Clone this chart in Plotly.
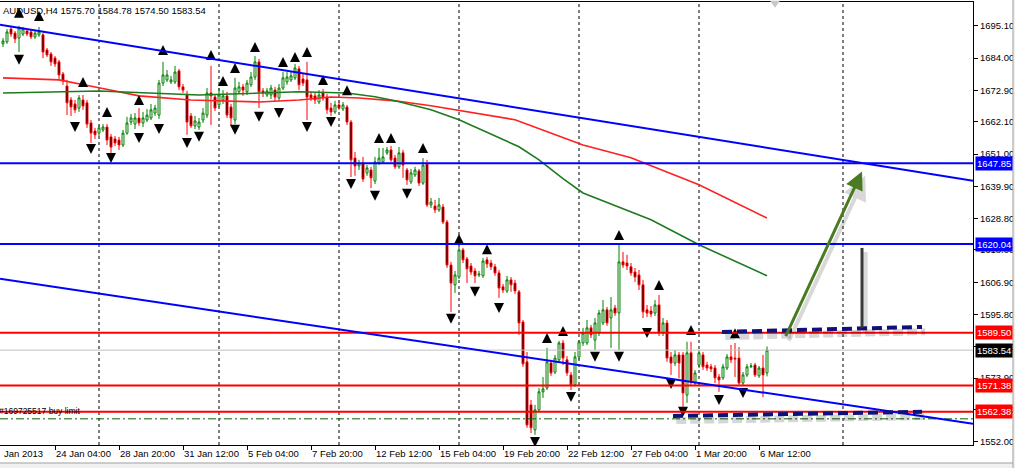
import plotly.graph_objects as go

# ---------------- data ----------------
opens = [1688.9, 1689.6, 1694.0, 1692.6, 1690.9, 1692.3, 1693.3, 1693.0, 1691.3, 1692.0,
         1692.0, 1686.8, 1685.4, 1684.0, 1682.7, 1678.5, 1674.4, 1669.6, 1668.2, 1666.8,
         1669.6, 1668.6, 1661.7, 1658.9, 1658.2, 1659.3, 1660.3, 1656.9, 1656.2, 1655.8,
         1654.1, 1658.2, 1662.0, 1661.3, 1663.4, 1661.7, 1662.7, 1663.4, 1665.1, 1664.4,
         1675.4, 1676.5, 1675.8, 1675.8, 1679.6, 1674.1, 1671.3, 1664.1, 1660.7, 1660.3,
         1662.7, 1664.4, 1672.0, 1670.6, 1667.9, 1669.6, 1671.0, 1667.2, 1662.7, 1672.4,
         1674.1, 1672.4, 1674.8, 1677.5, 1682.7, 1672.7, 1671.3, 1671.3, 1673.0, 1670.3,
         1673.7, 1675.8, 1676.5, 1677.2, 1680.3, 1676.8, 1676.5, 1671.3, 1671.0, 1668.9,
         1672.0, 1670.6, 1666.8, 1665.5, 1667.9, 1666.5, 1667.2, 1662.0, 1649.6, 1646.9,
         1647.9, 1644.5, 1645.5, 1641.7, 1647.9, 1648.3, 1651.4, 1652.4, 1649.6, 1646.6,
         1651.4, 1645.5, 1641.4, 1643.8, 1645.2, 1641.0, 1647.6, 1633.5, 1633.1, 1631.8,
         1632.8, 1627.6, 1612.8, 1606.0, 1608.7, 1618.0, 1614.9, 1612.5, 1610.8, 1609.4,
         1609.1, 1614.6, 1613.5, 1612.2, 1610.1, 1605.3, 1603.9, 1607.7, 1606.6, 1603.6,
         1593.2, 1579.5, 1564.7, 1556.1, 1563.0, 1569.2, 1570.5, 1579.1, 1576.0, 1580.2,
         1586.0, 1580.2, 1575.0, 1571.6, 1581.2, 1586.0, 1586.0, 1591.2, 1587.0, 1589.4,
         1592.9, 1597.4, 1594.6, 1598.0, 1596.3, 1613.9, 1613.5, 1612.2, 1610.4, 1609.4,
         1606.0, 1597.4, 1597.0, 1596.3, 1599.1, 1589.4, 1592.9, 1581.2, 1579.1, 1581.9,
         1581.9, 1568.1, 1582.6, 1572.2, 1578.4, 1581.9, 1578.4, 1577.8, 1577.4, 1574.3,
         1574.0, 1577.4, 1581.2, 1580.8, 1580.8, 1572.2, 1575.0, 1577.8, 1578.4, 1574.7,
         1577.4, 1575.70]
highs = [1690.9, 1694.0, 1694.7, 1693.3, 1695.1, 1694.7, 1694.0, 1693.7, 1693.3, 1694.7,
         1692.6, 1687.5, 1686.1, 1684.7, 1683.4, 1679.2, 1676.5, 1670.6, 1669.6, 1671.3,
         1671.3, 1669.6, 1662.7, 1660.0, 1661.0, 1661.3, 1661.3, 1657.9, 1657.2, 1656.9,
         1659.3, 1663.8, 1664.8, 1665.1, 1666.8, 1665.5, 1666.5, 1668.2, 1667.9, 1676.5,
         1682.7, 1679.9, 1677.9, 1681.3, 1680.3, 1675.1, 1672.7, 1665.1, 1664.1, 1663.4,
         1666.8, 1673.7, 1681.3, 1671.7, 1673.7, 1673.0, 1672.4, 1668.2, 1677.2, 1675.8,
         1675.1, 1676.5, 1679.2, 1684.7, 1683.7, 1673.7, 1673.7, 1674.8, 1674.1, 1675.1,
         1679.2, 1679.2, 1679.2, 1682.0, 1681.3, 1678.9, 1682.7, 1672.4, 1672.0, 1673.0,
         1673.4, 1671.7, 1668.6, 1669.3, 1669.3, 1668.9, 1667.9, 1662.7, 1651.7, 1649.0,
         1650.0, 1647.2, 1646.6, 1650.0, 1653.1, 1653.1, 1653.4, 1653.8, 1650.7, 1653.4,
         1652.4, 1646.2, 1645.9, 1646.6, 1645.9, 1649.6, 1649.0, 1635.9, 1635.2, 1635.9,
         1633.8, 1628.3, 1613.9, 1610.8, 1619.0, 1618.7, 1615.6, 1613.5, 1611.8, 1610.8,
         1615.2, 1615.6, 1614.6, 1613.2, 1611.1, 1606.3, 1609.1, 1608.7, 1607.7, 1604.2,
         1593.9, 1582.9, 1566.4, 1564.7, 1570.5, 1574.3, 1584.3, 1580.2, 1581.9, 1586.7,
         1587.0, 1581.5, 1576.0, 1582.9, 1587.0, 1591.2, 1593.9, 1592.2, 1594.6, 1597.4,
         1600.8, 1598.4, 1601.8, 1599.1, 1619.7, 1617.3, 1616.3, 1613.5, 1611.8, 1611.1,
         1607.7, 1599.1, 1598.7, 1600.8, 1602.5, 1594.6, 1593.9, 1582.9, 1583.6, 1582.9,
         1582.9, 1586.4, 1586.4, 1576.7, 1583.6, 1582.9, 1579.5, 1578.8, 1578.4, 1575.3,
         1578.8, 1582.2, 1585.3, 1586.0, 1584.6, 1576.0, 1578.8, 1579.1, 1579.1, 1578.1,
         1581.9, 1584.78]
lows = [1687.8, 1688.9, 1691.3, 1689.2, 1686.1, 1691.6, 1691.6, 1690.6, 1690.6, 1691.3,
        1684.0, 1684.4, 1681.3, 1681.0, 1676.8, 1674.8, 1664.4, 1664.1, 1665.1, 1665.5,
        1666.2, 1660.0, 1654.8, 1656.2, 1657.2, 1658.6, 1654.1, 1651.4, 1653.8, 1652.4,
        1653.4, 1657.6, 1661.0, 1659.6, 1660.7, 1660.3, 1662.0, 1662.7, 1664.1, 1663.1,
        1674.4, 1675.8, 1675.1, 1675.1, 1673.0, 1672.0, 1657.6, 1660.0, 1659.6, 1659.3,
        1661.7, 1663.4, 1661.0, 1665.8, 1667.2, 1668.2, 1663.4, 1660.7, 1661.3, 1671.7,
        1671.0, 1671.3, 1674.1, 1676.5, 1666.8, 1670.6, 1670.6, 1669.9, 1669.3, 1669.3,
        1673.0, 1674.8, 1675.8, 1676.5, 1673.0, 1674.4, 1662.7, 1669.3, 1668.2, 1668.2,
        1669.3, 1664.8, 1664.1, 1664.8, 1666.2, 1665.8, 1661.0, 1643.1, 1643.5, 1645.5,
        1641.4, 1643.5, 1639.3, 1640.7, 1647.2, 1647.6, 1650.7, 1648.3, 1645.9, 1645.9,
        1642.8, 1640.4, 1640.7, 1643.1, 1640.0, 1640.4, 1632.8, 1632.4, 1630.7, 1631.1,
        1626.9, 1611.8, 1596.7, 1603.2, 1608.0, 1613.5, 1606.6, 1609.4, 1606.6, 1608.7,
        1608.4, 1611.8, 1611.1, 1609.1, 1601.5, 1603.2, 1603.2, 1603.6, 1602.9, 1588.8,
        1577.8, 1556.8, 1555.0, 1554.4, 1562.3, 1567.1, 1569.8, 1574.7, 1575.3, 1579.5,
        1578.4, 1574.7, 1569.8, 1570.9, 1580.2, 1585.0, 1585.3, 1587.7, 1583.6, 1588.4,
        1592.2, 1591.9, 1584.3, 1595.3, 1583.6, 1611.8, 1611.1, 1609.1, 1607.0, 1604.2,
        1594.6, 1594.9, 1594.9, 1595.3, 1588.4, 1588.4, 1579.5, 1575.0, 1578.1, 1573.8,
        1564.0, 1565.4, 1571.6, 1571.2, 1577.4, 1576.7, 1576.4, 1576.0, 1572.2, 1569.2,
        1573.3, 1576.7, 1579.1, 1574.3, 1571.6, 1571.2, 1574.3, 1577.4, 1574.3, 1574.0,
        1567.4, 1574.50]
closes = [1689.9, 1693.0, 1692.3, 1690.6, 1694.4, 1694.0, 1692.3, 1691.3, 1692.6, 1693.0,
          1686.1, 1685.1, 1682.7, 1682.0, 1678.2, 1676.1, 1668.6, 1667.2, 1666.2, 1670.3,
          1667.5, 1661.3, 1658.2, 1657.6, 1660.0, 1660.3, 1655.8, 1653.4, 1654.8, 1654.1,
          1658.2, 1661.7, 1663.4, 1663.4, 1661.7, 1663.4, 1664.4, 1666.2, 1666.8, 1675.4,
          1678.2, 1678.2, 1676.5, 1679.2, 1674.1, 1673.0, 1662.0, 1660.7, 1662.4, 1662.0,
          1665.1, 1672.0, 1671.0, 1666.8, 1671.3, 1671.0, 1664.4, 1663.4, 1673.7, 1674.1,
          1673.0, 1675.4, 1677.5, 1682.7, 1672.4, 1672.0, 1672.7, 1673.7, 1670.6, 1673.7,
          1677.2, 1677.5, 1677.9, 1680.6, 1674.8, 1675.4, 1670.6, 1670.3, 1669.6, 1671.3,
          1670.3, 1666.2, 1665.5, 1667.9, 1666.8, 1667.9, 1662.0, 1649.0, 1646.9, 1647.9,
          1642.4, 1646.2, 1642.8, 1648.3, 1649.6, 1650.0, 1652.4, 1649.0, 1646.6, 1651.4,
          1647.2, 1642.1, 1644.5, 1645.5, 1641.0, 1647.2, 1633.5, 1634.5, 1631.8, 1633.5,
          1627.6, 1612.8, 1606.6, 1609.4, 1618.0, 1614.6, 1611.5, 1610.4, 1609.1, 1609.7,
          1614.2, 1613.2, 1612.2, 1610.1, 1604.9, 1604.2, 1607.7, 1606.0, 1603.9, 1592.9,
          1578.8, 1557.8, 1556.8, 1563.0, 1569.2, 1570.2, 1579.5, 1575.7, 1580.8, 1586.0,
          1580.8, 1575.7, 1571.6, 1581.2, 1586.4, 1589.4, 1591.2, 1588.8, 1592.9, 1596.3,
          1597.4, 1592.9, 1597.4, 1596.3, 1613.9, 1612.8, 1612.5, 1610.1, 1608.7, 1606.0,
          1596.7, 1596.3, 1596.0, 1599.1, 1589.4, 1592.9, 1580.8, 1579.1, 1581.9, 1579.1,
          1568.8, 1582.6, 1572.6, 1575.7, 1582.6, 1577.8, 1577.4, 1577.1, 1574.0, 1573.3,
          1577.8, 1581.2, 1580.2, 1580.5, 1572.2, 1575.0, 1577.8, 1578.1, 1575.0, 1577.4,
          1575.0, 1583.54]
bars = list(range(len(opens)))

# moving averages (bar index, price)
red_ma_bars = [0, 14, 24, 34, 47, 64, 74, 82, 89, 98, 107, 115, 128, 145, 157, 174, 191]
red_ma_vals = [1677.2, 1676.5, 1673.8, 1671.0, 1669.6, 1668.9, 1669.6, 1670.6, 1670.3, 1669.3,
               1667.6, 1665.8, 1662.8, 1654.1, 1649.7, 1640.4, 1629.0]
green_ma_bars = [0, 24, 49, 74, 86, 93, 98, 107, 114, 129, 134, 140, 145, 157, 162, 174, 185, 191]
green_ma_vals = [1672.0, 1672.7, 1671.3, 1672.4, 1672.0, 1670.7, 1669.3, 1666.2, 1662.8, 1653.5,
                 1649.0, 1642.5, 1637.6, 1631.1, 1628.4, 1619.8, 1612.9, 1609.1]

# fractals
up_fr_bars = [4, 9, 20, 26, 34, 40, 52, 55, 58, 63, 70, 73, 76, 80, 86, 94, 97, 105, 114, 121,
              136, 140, 154, 164, 172, 183]
up_fr_vals = [1701.3, 1700.2, 1677.5, 1667.2, 1671.3, 1688.5, 1686.8, 1677.8, 1682.3, 1689.5,
              1684.4, 1686.1, 1687.8, 1678.2, 1674.7, 1658.2, 1658.2, 1654.8, 1623.5, 1620.0,
              1589.4, 1591.8, 1624.9, 1607.7, 1592.2, 1591.1]
dn_fr_bars = [4, 18, 22, 27, 34, 39, 46, 49, 58, 64, 69, 76, 82, 87, 93, 101, 112, 118, 124, 133,
              142, 148, 154, 161, 167, 170, 179, 185]
dn_fr_vals = [1681.7, 1658.6, 1651.0, 1647.9, 1654.8, 1657.9, 1653.1, 1655.2, 1657.6, 1662.1,
              1663.4, 1658.6, 1660.3, 1639.0, 1634.9, 1635.6, 1592.6, 1601.9, 1596.3, 1550.2,
              1565.7, 1579.5, 1579.5, 1587.7, 1570.2, 1560.6, 1564.7, 1567.1]

# time axis
x_label_bars = [13, 29, 45, 61, 77, 93, 109, 125, 141, 157, 173, 189]
x_label_text = ["24 Jan 04:00", "28 Jan 20:00", "31 Jan 12:00", "5 Feb 04:00", "7 Feb 20:00",
                "12 Feb 12:00", "15 Feb 04:00", "19 Feb 20:00", "22 Feb 12:00", "27 Feb 04:00",
                "1 Mar 20:00", "6 Mar 12:00"]
first_label_bar = -0.25
first_label_text = "Jan 2013"
week_grid_bars = [24, 54, 84, 114, 144, 174, 210]

# price axis
y_tick_vals = [1695.10, 1684.00, 1672.90, 1662.10, 1651.00, 1639.90, 1628.80, 1618.00,
               1606.90, 1595.80, 1584.70, 1573.90, 1563.00, 1552.00]
y_tick_text = ["%.2f" % v for v in y_tick_vals]

# horizontal levels
level_prices = [1647.85, 1620.04, 1589.50, 1571.38, 1562.38]
level_colors = ["#0000ff", "#0000ff", "#ff0000", "#ff0000", "#ff0000"]
bid_price = 1583.54
order_price = 1559.9
order_text = "#169725517 buy limit"

# channel trend lines (bar index, price)
upper_tl_bars = [-0.75, 242.5]
upper_tl_vals = [1695.44, 1641.78]
lower_tl_bars = [-0.75, 242.5]
lower_tl_vals = [1608.06, 1558.2]

# drawn objects
navy_up_bars = [179.75, 229.75]
navy_up_vals = [1589.8, 1591.5]
navy_dn_bars = [167.5, 229.75]
navy_dn_vals = [1560.9, 1562.3]
arrow_from = (195.5, 1587.8)
arrow_to = (214.75, 1645.0)
stick_bar = 214.75
stick_vals = [1618.7, 1591.2]

title_text = "AUDUSD,H4 1575.70 1584.78 1574.50 1583.54"

FONT = "Liberation Sans, Arial, sans-serif"

# ---------------- figure ----------------
fig = go.Figure()

fig.add_trace(go.Candlestick(
    x=bars, open=opens, high=highs, low=lows, close=closes,
    increasing=dict(line=dict(color="#008000", width=1), fillcolor="#ffffff"),
    decreasing=dict(line=dict(color="#ff0000", width=1), fillcolor="#000000"),
    whiskerwidth=0, hoverinfo="skip", showlegend=False))

fig.add_trace(go.Scatter(x=red_ma_bars, y=red_ma_vals, mode="lines",
                         line=dict(color="#ff2020", width=1.6), hoverinfo="skip", showlegend=False))
fig.add_trace(go.Scatter(x=green_ma_bars, y=green_ma_vals, mode="lines",
                         line=dict(color="#1e7a1e", width=1.6), hoverinfo="skip", showlegend=False))

fig.add_trace(go.Scatter(x=up_fr_bars, y=up_fr_vals, mode="markers",
                         marker=dict(symbol="arrow-up", size=10, color="#000000",
                                     line=dict(width=0)),
                         hoverinfo="skip", showlegend=False))
fig.add_trace(go.Scatter(x=dn_fr_bars, y=dn_fr_vals, mode="markers",
                         marker=dict(symbol="arrow-down", size=10, color="#000000",
                                     line=dict(width=0)),
                         hoverinfo="skip", showlegend=False))

shapes = []
for b in week_grid_bars:
    shapes.append(dict(type="line", xref="x", yref="paper", x0=b, x1=b, y0=0, y1=1,
                       line=dict(color="#000000", width=1, dash="3px,3px"), layer="below"))
# bid line
shapes.append(dict(type="line", xref="paper", yref="y", x0=0, x1=1, y0=bid_price, y1=bid_price,
                   line=dict(color="#c0c0c0", width=1)))
# pending order line
shapes.append(dict(type="line", xref="paper", yref="y", x0=0, x1=1, y0=order_price, y1=order_price,
                   line=dict(color="#006400", width=1, dash="8px,3px,2px,3px")))
for p, c in zip(level_prices, level_colors):
    shapes.append(dict(type="line", xref="paper", yref="y", x0=0, x1=1, y0=p, y1=p,
                       line=dict(color=c, width=2)))
shapes.append(dict(type="line", xref="x", yref="y", x0=upper_tl_bars[0], x1=upper_tl_bars[1],
                   y0=upper_tl_vals[0], y1=upper_tl_vals[1], line=dict(color="#0000ff", width=2)))
shapes.append(dict(type="line", xref="x", yref="y", x0=lower_tl_bars[0], x1=lower_tl_bars[1],
                   y0=lower_tl_vals[0], y1=lower_tl_vals[1], line=dict(color="#0000ff", width=2)))
# shadows of drawn dashed lines
for bx, vy in ((navy_up_bars, navy_up_vals), (navy_dn_bars, navy_dn_vals)):
    shapes.append(dict(type="line", xref="x", yref="y", x0=bx[0] + 0.8, x1=bx[1] + 0.8,
                       y0=vy[0] - 1.6, y1=vy[1] - 1.6,
                       line=dict(color="rgba(0,0,0,0.16)", width=7, dash="10px,4px")))
    shapes.append(dict(type="line", xref="x", yref="y", x0=bx[0], x1=bx[1], y0=vy[0], y1=vy[1],
                       line=dict(color="#10107a", width=4, dash="10px,5px")))
# stick shadow and stick
shapes.append(dict(type="line", xref="x", yref="y", x0=stick_bar + 0.8, x1=stick_bar + 0.8,
                   y0=stick_vals[0] - 1.4, y1=stick_vals[1] - 1.4,
                   line=dict(color="rgba(0,0,0,0.15)", width=5)))
shapes.append(dict(type="line", xref="x", yref="y", x0=stick_bar, x1=stick_bar,
                   y0=stick_vals[0], y1=stick_vals[1], line=dict(color="#3a3a3a", width=3)))

# window frame pieces
shapes.append(dict(type="rect", xref="paper", yref="paper", x0=-0.01, x1=1.05,
                   y0=-0.0406, y1=-0.06, fillcolor="#f0f0f0", line=dict(color="#a0a0a0", width=1)))
shapes.append(dict(type="rect", xref="paper", yref="paper", x0=1.0411, x1=1.06,
                   y0=-0.06, y1=1.01, fillcolor="#f0f0f0", line=dict(color="#a0a0a0", width=1)))
# chart-shift marker at the top
shapes.append(dict(type="path", xref="paper", yref="paper",
                   path="M 0.7914 1.003 L 0.8016 1.003 L 0.7965 0.987 Z",
                   fillcolor="#c8c8c8", line=dict(width=0)))

annotations = []
# arrow shadow + arrow
annotations.append(dict(x=arrow_to[0] + 0.8, y=arrow_to[1] - 1.5, ax=arrow_from[0] + 0.8,
                        ay=arrow_from[1] - 1.5, xref="x", yref="y", axref="x", ayref="y",
                        text="", showarrow=True, arrowhead=2, arrowsize=1.2, arrowwidth=4,
                        arrowcolor="rgba(0,0,0,0.15)"))
annotations.append(dict(x=arrow_to[0], y=arrow_to[1], ax=arrow_from[0], ay=arrow_from[1],
                        xref="x", yref="y", axref="x", ayref="y", text="", showarrow=True,
                        arrowhead=2, arrowsize=1.2, arrowwidth=3, arrowcolor="#4a7a22"))

for b, t in zip(x_label_bars, x_label_text):
    annotations.append(dict(x=b, y=0, xref="x", yref="paper", text=t, showarrow=False,
                            xanchor="left", yanchor="top", yshift=-1, xshift=-1,
                            font=dict(family=FONT, size=9.5, color="#000000")))
annotations.append(dict(x=first_label_bar, y=0, xref="x", yref="paper", text=first_label_text,
                        showarrow=False, xanchor="left", yanchor="top", yshift=-1,
                        font=dict(family=FONT, size=9.5, color="#000000")))

for p, c in zip(level_prices, level_colors):
    annotations.append(dict(x=1, y=p, xref="paper", yref="y", text="%.2f" % p, showarrow=False,
                            xanchor="left", yanchor="middle", xshift=2, bgcolor=c, borderpad=1,
                            font=dict(family=FONT, size=9.5, color="#ffffff")))
annotations.append(dict(x=1, y=bid_price, xref="paper", yref="y", text="%.2f" % bid_price,
                        showarrow=False, xanchor="left", yanchor="middle", xshift=2,
                        bgcolor="#000000", borderpad=1,
                        font=dict(family=FONT, size=9.5, color="#ffffff")))

annotations.append(dict(x=0, y=1, xref="paper", yref="paper", text=title_text, showarrow=False,
                        xanchor="left", yanchor="top", xshift=1, yshift=-1,
                        font=dict(family=FONT, size=9.5, color="#000000")))
annotations.append(dict(x=0, y=order_price, xref="paper", yref="y", text=order_text,
                        showarrow=False, xanchor="left", yanchor="bottom", xshift=-3, yshift=1,
                        font=dict(family=FONT, size=8.5, color="#000000")))

fig.update_layout(
    width=1015, height=468,
    margin=dict(l=0, r=42, t=2, b=23),
    paper_bgcolor="#ffffff", plot_bgcolor="#ffffff",
    shapes=shapes, annotations=annotations, showlegend=False,
    font=dict(family=FONT, size=9.5, color="#000000"),
    xaxis=dict(range=[-0.75, 242.5], showgrid=False, zeroline=False, showline=True,
               linecolor="#000000", linewidth=1, mirror=True, ticks="outside", ticklen=4,
               tickcolor="#000000", tickvals=x_label_bars, showticklabels=False,
               rangeslider=dict(visible=False), fixedrange=True),
    yaxis=dict(range=[1550.9, 1703.3], side="right", showgrid=False, zeroline=False,
               showline=True, linecolor="#000000", linewidth=1, ticks="outside", ticklen=4,
               tickcolor="#000000", tickvals=y_tick_vals, ticktext=y_tick_text,
               tickfont=dict(family=FONT, size=9.5, color="#000000"), fixedrange=True),
    hovermode=False,
)

fig.write_html("out.html", config={"displayModeBar": False},
               post_script="document.body.style.margin='0';document.body.style.overflow='hidden';")
